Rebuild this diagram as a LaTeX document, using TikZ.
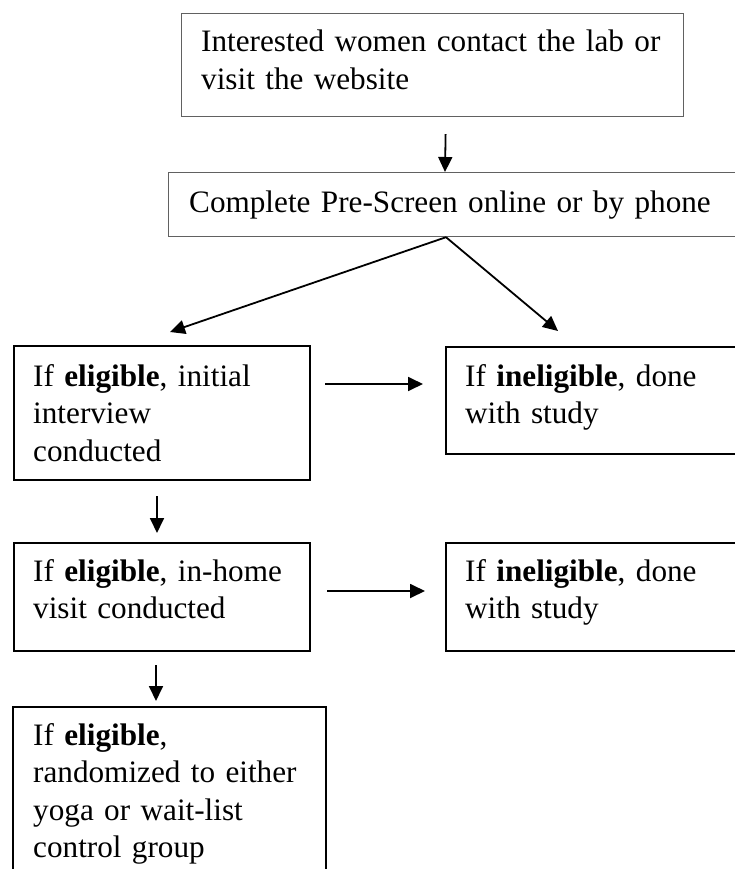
\documentclass[tikz,border=0pt]{standalone}
\usepackage{fontspec}
\setmainfont{Liberation Serif}
\usetikzlibrary{arrows.meta,calc}
\newcommand\flowfs{\fontsize{31.2pt}{37.5pt}\selectfont}
\tikzset{
  thinbox/.style={draw=black!62, line width=1.2pt, inner sep=0pt, anchor=north west},
  thickbox/.style={draw=black, line width=2.4pt, inner sep=0pt, anchor=north west},
  txt/.style={anchor=base west, inner sep=0pt, align=left, text width=640pt, font=\flowfs},
  arr/.style={-{Triangle[length=15pt,width=14pt]}, line width=1.8pt}
}
\begin{document}
\begin{tikzpicture}[x=1pt,y=-1pt]
\useasboundingbox (0,0) rectangle (735,869);
\clip (0,0) rectangle (735,869);
% boxes
\node[thinbox, minimum width=502pt, minimum height=103pt] (b1) at (181,13) {};
\node[thinbox, minimum width=600pt, minimum height=64pt] (b2) at (168,172) {};
\node[thickbox, minimum width=296pt, minimum height=134pt] (b3) at (13,345) {};
\node[thickbox, minimum width=330pt, minimum height=107pt] (b4) at (445,346) {};
\node[thickbox, minimum width=296pt, minimum height=108pt] (b5) at (13,542) {};
\node[thickbox, minimum width=330pt, minimum height=108pt] (b6) at (445,542) {};
\node[thickbox, minimum width=313pt, minimum height=200pt] (b7) at (12,706) {};
% texts
\node[txt] (t1) at ($(b1.north west)+(20,39)$) {Interested women contact the lab or\\visit the website};
\node[txt] (t2) at ($(b2.north west)+(21,40)$) {Complete Pre-Screen online or by phone};
\node[txt] (t3) at ($(b3.north west)+(20,41)$) {If \textbf{eligible}, initial\\interview\\conducted};
\node[txt] (t4) at ($(b4.north west)+(20,40)$) {If \textbf{ineligible}, done\\with study};
\node[txt] (t5) at ($(b5.north west)+(20,39)$) {If \textbf{eligible}, in-home\\visit conducted};
\node[txt] (t6) at ($(b6.north west)+(20,39)$) {If \textbf{ineligible}, done\\with study};
\node[txt] (t7) at ($(b7.north west)+(21,39)$) {If \textbf{eligible},\\randomized to either\\yoga or wait-list\\control group};
% connector end points
\coordinate (a1s) at ($(b1.south)+(13,17)$);
\coordinate (a1e) at ($(b2.north west)+(277,0)$);
\coordinate (ds) at ($(b2.south west)+(278,0)$);
\coordinate (dl) at ($(b3.north west)+(157,-13)$);
\coordinate (dr) at ($(b4.north west)+(113,-15)$);
\coordinate (h1s) at ($(b3.north east)+(14,39)$);
\coordinate (h1e) at ($(b4.north west)+(-22,38)$);
\coordinate (a2s) at ($(b3.south west)+(144,15)$);
\coordinate (a2e) at ($(b5.north west)+(144,-9)$);
\coordinate (h2s) at ($(b5.north east)+(16,49)$);
\coordinate (h2e) at ($(b6.north west)+(-20,49)$);
\coordinate (a3s) at ($(b5.south west)+(143,13)$);
\coordinate (a3e) at ($(b7.north west)+(144,-5)$);
% connectors
\draw[arr] (a1s) -- (a1e);
\draw[arr] (ds) -- (dl);
\draw[arr] (ds) -- (dr);
\draw[arr] (h1s) -- (h1e);
\draw[arr] (a2s) -- (a2e);
\draw[arr] (h2s) -- (h2e);
\draw[arr] (a3s) -- (a3e);
\end{tikzpicture}
\end{document}
